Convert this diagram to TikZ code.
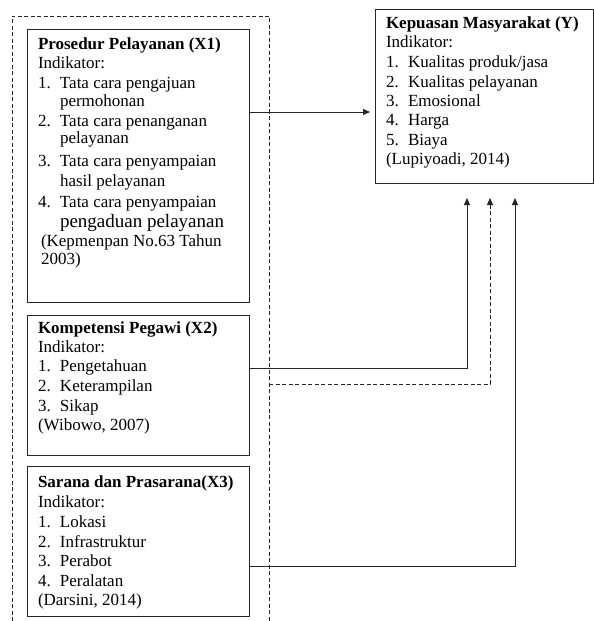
\documentclass[tikz,border=0pt]{standalone}
\usepackage{fontspec}
\setmainfont{Liberation Serif}
\usetikzlibrary{arrows.meta}
\newcommand\myitem[2]{\makebox[22pt][l]{#1}#2}
\begin{document}
\begin{tikzpicture}[x=1pt,y=-1pt,
  box/.style={draw=black!85, line width=1pt, inner sep=0pt, outer sep=0pt, anchor=north west},
  txt/.style={anchor=base west, inner sep=0pt, outer sep=0pt, font=\fontsize{17}{20}\selectfont, text=black},
  tip/.style={-{Triangle[length=7pt,width=6pt]}},
  conn/.style={draw=black!85, line width=1pt, tip},
  dsh/.style={draw=black!85, line width=0.9pt, dash pattern=on 4pt off 2.5pt}]
\useasboundingbox (0,0) rectangle (594,621);
\fill[white] (0,0) rectangle (594,621);

% dashed grouping frame (open at bottom)
\coordinate (g1) at (12,621);
\coordinate (g2) at (12,16);
\coordinate (g3) at (269,16);
\coordinate (g4) at (269,621);
\draw[dsh] (g1) -- (g2) -- (g3) -- (g4);

% boxes
\node[box, minimum width=222pt, minimum height=273pt] (x1) at (27,29) {};
\node[box, minimum width=218pt, minimum height=174pt] (y) at (375,9) {};
\node[box, minimum width=222pt, minimum height=140pt] (x2) at (27,315) {};
\node[box, minimum width=222pt, minimum height=150pt] (x3) at (27,466) {};

% connectors
\coordinate (r1) at (0,112);
\coordinate (t1) at (370,112);
\draw[conn] (x1.east |- r1) -- (t1);

\coordinate (r2) at (0,368);
\coordinate (t2) at (467,198);
\draw[conn] (x2.east |- r2) -| (t2);

\coordinate (d0) at (269,384);
\coordinate (t3) at (490,198);
\draw[dsh, tip] (d0) -| (t3);

\coordinate (r4) at (0,566);
\coordinate (t4) at (515,198);
\draw[conn] (x3.east |- r4) -| (t4);

% X1 text
\node[txt] (a1) at (38,49) {\textbf{Prosedur Pelayanan (X1)}};
\node[txt] (a2) at (38,68) {Indikator:};
\node[txt] (a3) at (38,88) {\myitem{1.}{Tata cara pengajuan}};
\node[txt] (a4) at (60,106) {permohonan};
\node[txt] (a5) at (38,126) {\myitem{2.}{Tata cara penanganan}};
\node[txt] (a6) at (60,143) {pelayanan};
\node[txt] (a7) at (38,166) {\myitem{3.}{Tata cara penyampaian}};
\node[txt] (a8) at (60,186) {hasil pelayanan};
\node[txt] (a9) at (38,207) {\myitem{4.}{Tata cara penyampaian}};
\node[txt, font=\fontsize{19}{22}\selectfont] (a10) at (60,227) {pengaduan pelayanan};
\node[txt] (a11) at (41,246) {(Kepmenpan No.63 Tahun};
\node[txt] (a12) at (41,264) {2003)};

% Y text
\node[txt] (b1) at (386,28) {\textbf{Kepuasan Masyarakat (Y)}};
\node[txt] (b2) at (386,47) {Indikator:};
\node[txt] (b3) at (386,67) {\myitem{1.}{Kualitas produk/jasa}};
\node[txt] (b4) at (386,87) {\myitem{2.}{Kualitas pelayanan}};
\node[txt] (b5) at (386,106) {\myitem{3.}{Emosional}};
\node[txt] (b6) at (386,125) {\myitem{4.}{Harga}};
\node[txt] (b7) at (386,145) {\myitem{5.}{Biaya}};
\node[txt] (b8) at (386,164) {(Lupiyoadi, 2014)};

% X2 text
\node[txt] (c1) at (38,333) {\textbf{Kompetensi Pegawi (X2)}};
\node[txt] (c2) at (38,352) {Indikator:};
\node[txt] (c3) at (38,371) {\myitem{1.}{Pengetahuan}};
\node[txt] (c4) at (38,391) {\myitem{2.}{Keterampilan}};
\node[txt] (c5) at (38,411) {\myitem{3.}{Sikap}};
\node[txt] (c6) at (38,430) {(Wibowo, 2007)};

% X3 text
\node[txt] (e1) at (38,487) {\textbf{Sarana dan Prasarana(X3)}};
\node[txt] (e2) at (38,507) {Indikator:};
\node[txt] (e3) at (38,527) {\myitem{1.}{Lokasi}};
\node[txt] (e4) at (38,547) {\myitem{2.}{Infrastruktur}};
\node[txt] (e5) at (38,566) {\myitem{3.}{Perabot}};
\node[txt] (e6) at (38,586) {\myitem{4.}{Peralatan}};
\node[txt] (e7) at (38,605) {(Darsini, 2014)};
\end{tikzpicture}
\end{document}
